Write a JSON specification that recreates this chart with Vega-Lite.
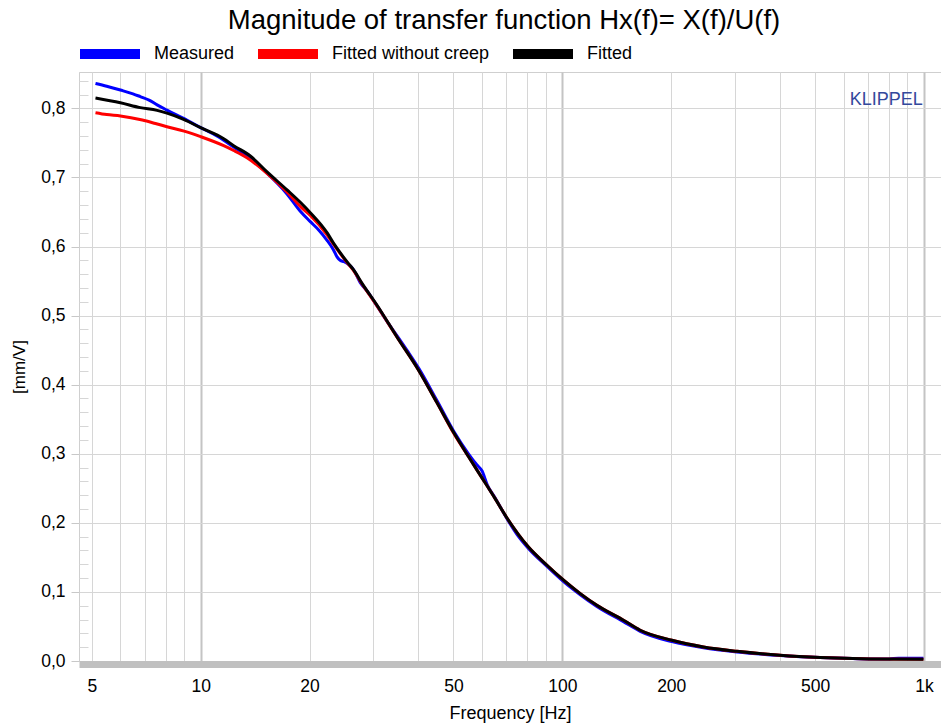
{
  "$schema": "https://vega.github.io/schema/vega-lite/v6.json",
  "width": 862,
  "height": 589,
  "autosize": "none",
  "padding": {"left": 79, "top": 72, "right": 0, "bottom": 64},
  "background": "white",
  "config": {
    "font": "Liberation Sans",
    "view": {"stroke": "#cfcfcf", "strokeWidth": 1}
  },
  "title": {
    "text": "Magnitude of transfer function Hx(f)= X(f)/U(f)",
    "fontSize": 27.5,
    "fontWeight": "normal",
    "font": "Liberation Sans",
    "color": "#000000",
    "anchor": "middle",
    "frame": "group",
    "dx": -6,
    "offset": -15
  },
  "data": {
    "values": [
      {"series": "Measured", "f": 5.12, "v": 0.836},
      {"series": "Measured", "f": 5.5, "v": 0.832},
      {"series": "Measured", "f": 6.0, "v": 0.8265},
      {"series": "Measured", "f": 6.5, "v": 0.821},
      {"series": "Measured", "f": 6.81, "v": 0.817},
      {"series": "Measured", "f": 7.2, "v": 0.812},
      {"series": "Measured", "f": 7.58, "v": 0.805},
      {"series": "Measured", "f": 8.07, "v": 0.7975},
      {"series": "Measured", "f": 8.97, "v": 0.7855},
      {"series": "Measured", "f": 10, "v": 0.772},
      {"series": "Measured", "f": 11, "v": 0.761},
      {"series": "Measured", "f": 11.58, "v": 0.754},
      {"series": "Measured", "f": 12.34, "v": 0.744},
      {"series": "Measured", "f": 13.43, "v": 0.731},
      {"series": "Measured", "f": 15.26, "v": 0.706},
      {"series": "Measured", "f": 17.33, "v": 0.676},
      {"series": "Measured", "f": 18.86, "v": 0.651},
      {"series": "Measured", "f": 20.1, "v": 0.636},
      {"series": "Measured", "f": 21.2, "v": 0.624},
      {"series": "Measured", "f": 22.36, "v": 0.609},
      {"series": "Measured", "f": 23.3, "v": 0.595},
      {"series": "Measured", "f": 23.83, "v": 0.585},
      {"series": "Measured", "f": 24.3, "v": 0.58},
      {"series": "Measured", "f": 24.9, "v": 0.578},
      {"series": "Measured", "f": 25.5, "v": 0.575},
      {"series": "Measured", "f": 26.5, "v": 0.566},
      {"series": "Measured", "f": 27.6, "v": 0.548},
      {"series": "Measured", "f": 28.8, "v": 0.536},
      {"series": "Measured", "f": 30.74, "v": 0.514},
      {"series": "Measured", "f": 33, "v": 0.489},
      {"series": "Measured", "f": 35, "v": 0.47},
      {"series": "Measured", "f": 37.5, "v": 0.447},
      {"series": "Measured", "f": 40.05, "v": 0.424},
      {"series": "Measured", "f": 45, "v": 0.377},
      {"series": "Measured", "f": 50.03, "v": 0.333},
      {"series": "Measured", "f": 55, "v": 0.3},
      {"series": "Measured", "f": 58, "v": 0.284},
      {"series": "Measured", "f": 60, "v": 0.275},
      {"series": "Measured", "f": 62, "v": 0.255},
      {"series": "Measured", "f": 65.2, "v": 0.236},
      {"series": "Measured", "f": 70.3, "v": 0.206},
      {"series": "Measured", "f": 75, "v": 0.183},
      {"series": "Measured", "f": 80.6, "v": 0.163},
      {"series": "Measured", "f": 90.7, "v": 0.137},
      {"series": "Measured", "f": 100.8, "v": 0.115},
      {"series": "Measured", "f": 112.1, "v": 0.096},
      {"series": "Measured", "f": 124.6, "v": 0.079},
      {"series": "Measured", "f": 147.6, "v": 0.057},
      {"series": "Measured", "f": 164.2, "v": 0.043},
      {"series": "Measured", "f": 200.9, "v": 0.028},
      {"series": "Measured", "f": 245.6, "v": 0.019},
      {"series": "Measured", "f": 303.8, "v": 0.013},
      {"series": "Measured", "f": 400, "v": 0.008},
      {"series": "Measured", "f": 516, "v": 0.005},
      {"series": "Measured", "f": 600, "v": 0.004},
      {"series": "Measured", "f": 710, "v": 0.003},
      {"series": "Measured", "f": 800, "v": 0.003},
      {"series": "Measured", "f": 850, "v": 0.004},
      {"series": "Measured", "f": 996, "v": 0.004},

      {"series": "Fitted without creep", "f": 5.12, "v": 0.7937},
      {"series": "Fitted without creep", "f": 5.5, "v": 0.791},
      {"series": "Fitted without creep", "f": 6.0, "v": 0.789},
      {"series": "Fitted without creep", "f": 6.9, "v": 0.783},
      {"series": "Fitted without creep", "f": 7.5, "v": 0.778},
      {"series": "Fitted without creep", "f": 8.07, "v": 0.7734},
      {"series": "Fitted without creep", "f": 9, "v": 0.767},
      {"series": "Fitted without creep", "f": 10, "v": 0.759},
      {"series": "Fitted without creep", "f": 11.58, "v": 0.746},
      {"series": "Fitted without creep", "f": 12.34, "v": 0.739},
      {"series": "Fitted without creep", "f": 13.43, "v": 0.7285},
      {"series": "Fitted without creep", "f": 15.26, "v": 0.706},
      {"series": "Fitted without creep", "f": 17.33, "v": 0.679},
      {"series": "Fitted without creep", "f": 18.86, "v": 0.658},
      {"series": "Fitted without creep", "f": 20.1, "v": 0.645},
      {"series": "Fitted without creep", "f": 22.36, "v": 0.617},
      {"series": "Fitted without creep", "f": 23.32, "v": 0.603},
      {"series": "Fitted without creep", "f": 25.38, "v": 0.577},
      {"series": "Fitted without creep", "f": 26.48, "v": 0.565},
      {"series": "Fitted without creep", "f": 28.0, "v": 0.545},
      {"series": "Fitted without creep", "f": 30.74, "v": 0.514},
      {"series": "Fitted without creep", "f": 35, "v": 0.468},
      {"series": "Fitted without creep", "f": 40.05, "v": 0.421},
      {"series": "Fitted without creep", "f": 45, "v": 0.374},
      {"series": "Fitted without creep", "f": 50.03, "v": 0.33},
      {"series": "Fitted without creep", "f": 55, "v": 0.296},
      {"series": "Fitted without creep", "f": 59.3, "v": 0.269},
      {"series": "Fitted without creep", "f": 65.2, "v": 0.235},
      {"series": "Fitted without creep", "f": 70.3, "v": 0.207},
      {"series": "Fitted without creep", "f": 80.6, "v": 0.165},
      {"series": "Fitted without creep", "f": 90.7, "v": 0.1386},
      {"series": "Fitted without creep", "f": 100.8, "v": 0.117},
      {"series": "Fitted without creep", "f": 112.1, "v": 0.0976},
      {"series": "Fitted without creep", "f": 124.6, "v": 0.0807},
      {"series": "Fitted without creep", "f": 147.6, "v": 0.059},
      {"series": "Fitted without creep", "f": 164.2, "v": 0.0445},
      {"series": "Fitted without creep", "f": 200.9, "v": 0.03},
      {"series": "Fitted without creep", "f": 245.6, "v": 0.0203},
      {"series": "Fitted without creep", "f": 303.8, "v": 0.014},
      {"series": "Fitted without creep", "f": 400, "v": 0.0083},
      {"series": "Fitted without creep", "f": 516, "v": 0.005},
      {"series": "Fitted without creep", "f": 710, "v": 0.003},
      {"series": "Fitted without creep", "f": 996, "v": 0.0025},

      {"series": "Fitted", "f": 5.12, "v": 0.815},
      {"series": "Fitted", "f": 6.0, "v": 0.808},
      {"series": "Fitted", "f": 6.81, "v": 0.801},
      {"series": "Fitted", "f": 7.58, "v": 0.797},
      {"series": "Fitted", "f": 8.07, "v": 0.793},
      {"series": "Fitted", "f": 8.97, "v": 0.784},
      {"series": "Fitted", "f": 10, "v": 0.772},
      {"series": "Fitted", "f": 11.58, "v": 0.756},
      {"series": "Fitted", "f": 12.34, "v": 0.746},
      {"series": "Fitted", "f": 13.72, "v": 0.731},
      {"series": "Fitted", "f": 15.26, "v": 0.708},
      {"series": "Fitted", "f": 17.33, "v": 0.682},
      {"series": "Fitted", "f": 18.86, "v": 0.664},
      {"series": "Fitted", "f": 20.1, "v": 0.649},
      {"series": "Fitted", "f": 22.36, "v": 0.62},
      {"series": "Fitted", "f": 23.32, "v": 0.6045},
      {"series": "Fitted", "f": 25.38, "v": 0.578},
      {"series": "Fitted", "f": 26.48, "v": 0.566},
      {"series": "Fitted", "f": 28.0, "v": 0.546},
      {"series": "Fitted", "f": 30.74, "v": 0.515},
      {"series": "Fitted", "f": 35, "v": 0.468},
      {"series": "Fitted", "f": 40.05, "v": 0.421},
      {"series": "Fitted", "f": 45, "v": 0.374},
      {"series": "Fitted", "f": 50.03, "v": 0.331},
      {"series": "Fitted", "f": 55, "v": 0.296},
      {"series": "Fitted", "f": 59.3, "v": 0.269},
      {"series": "Fitted", "f": 65.2, "v": 0.235},
      {"series": "Fitted", "f": 70.3, "v": 0.207},
      {"series": "Fitted", "f": 80.6, "v": 0.165},
      {"series": "Fitted", "f": 90.7, "v": 0.1386},
      {"series": "Fitted", "f": 100.8, "v": 0.117},
      {"series": "Fitted", "f": 112.1, "v": 0.0976},
      {"series": "Fitted", "f": 124.6, "v": 0.0807},
      {"series": "Fitted", "f": 147.6, "v": 0.059},
      {"series": "Fitted", "f": 164.2, "v": 0.0445},
      {"series": "Fitted", "f": 200.9, "v": 0.03},
      {"series": "Fitted", "f": 245.6, "v": 0.0203},
      {"series": "Fitted", "f": 303.8, "v": 0.014},
      {"series": "Fitted", "f": 400, "v": 0.0083},
      {"series": "Fitted", "f": 516, "v": 0.005},
      {"series": "Fitted", "f": 710, "v": 0.003},
      {"series": "Fitted", "f": 996, "v": 0.0025}
    ]
  },
  "resolve": {"axis": {"y": "independent"}},
  "layer": [
    {
      "transform": [{"filter": "datum.series == 'Measured'"}],
      "mark": {"type": "line", "strokeWidth": 3, "interpolate": "monotone"},
      "encoding": {
        "x": {
          "field": "f", "type": "quantitative",
          "scale": {"type": "log", "domain": [4.61, 1114], "nice": false},
          "axis": {
            "orient": "bottom",
            "title": "Frequency [Hz]",
            "titleFontSize": 18, "titleFontWeight": "normal", "titleColor": "#000000",
            "titlePadding": 10,
            "values": [5, 6, 7, 8, 9, 10, 20, 30, 40, 50, 60, 70, 80, 90, 100, 200, 300, 400, 500, 600, 700, 800, 900, 1000],
            "labelExpr": "datum.value == 1000 ? '1k' : ((datum.value == 5 || datum.value == 10 || datum.value == 20 || datum.value == 50 || datum.value == 100 || datum.value == 200 || datum.value == 500) ? '' + datum.value : '')",
            "labelFontSize": 17.5, "labelColor": "#000000", "labelPadding": 13,
            "labelOverlap": false, "labelFlush": false,
            "ticks": false, "tickSize": 0,
            "domain": true, "domainColor": "#c0c0c0", "domainWidth": 7, "offset": 3,
            "grid": true,
            "gridColor": {"condition": {"test": "datum.value == 10 || datum.value == 100 || datum.value == 1000", "value": "#c4c4c4"}, "value": "#d6d6d6"},
            "gridWidth": {"condition": {"test": "datum.value == 10 || datum.value == 100 || datum.value == 1000", "value": 2}, "value": 1}
          }
        },
        "y": {
          "field": "v", "type": "quantitative",
          "scale": {"domain": [0, 0.8526], "nice": false, "zero": false},
          "axis": {
            "orient": "left",
            "title": "[mm/V]",
            "titleFontSize": 17, "titleFontWeight": "normal", "titleColor": "#000000",
            "titlePadding": 12,
            "values": [0, 0.1, 0.2, 0.3, 0.4, 0.5, 0.6, 0.7, 0.8],
            "labelExpr": "replace(format(datum.value, '.1f'), '.', ',')",
            "labelFontSize": 17.5, "labelColor": "#000000", "labelPadding": 6,
            "ticks": true, "tickSize": 8, "tickColor": "#c8c8c8",
            "domain": true, "domainColor": "#cfcfcf",
            "grid": true, "gridColor": "#d6d6d6", "gridWidth": 1
          }
        },
        "color": {
          "field": "series", "type": "nominal",
          "scale": {"domain": ["Measured", "Fitted without creep", "Fitted"], "range": ["#0000ff", "#ff0000", "#000000"]},
          "legend": {
            "orient": "none", "legendX": -4, "legendY": -53,
            "direction": "horizontal", "title": null,
            "symbolType": "stroke", "symbolSize": 3600, "symbolStrokeWidth": 10,
            "labelFontSize": 18, "labelColor": "#000000", "labelOffset": 9,
            "columnPadding": 3
          }
        }
      }
    },
    {
      "transform": [{"filter": "datum.series == 'Fitted without creep'"}],
      "mark": {"type": "line", "strokeWidth": 3, "interpolate": "monotone"},
      "encoding": {
        "x": {"field": "f", "type": "quantitative"},
        "y": {
          "field": "v", "type": "quantitative",
          "axis": {
            "orient": "left", "title": null, "labels": false, "domain": false, "grid": false,
            "ticks": true, "tickSize": -9, "tickColor": "#d6d6d6",
            "values": [0.02, 0.04, 0.06, 0.08, 0.12, 0.14, 0.16, 0.18, 0.22, 0.24, 0.26, 0.28, 0.32, 0.34, 0.36, 0.38, 0.42, 0.44, 0.46, 0.48, 0.52, 0.54, 0.56, 0.58, 0.62, 0.64, 0.66, 0.68, 0.72, 0.74, 0.76, 0.78, 0.82, 0.84]
          }
        },
        "color": {"field": "series", "type": "nominal"}
      }
    },
    {
      "transform": [{"filter": "datum.series == 'Fitted'"}],
      "mark": {"type": "line", "strokeWidth": 3, "interpolate": "monotone"},
      "encoding": {
        "x": {"field": "f", "type": "quantitative"},
        "y": {"field": "v", "type": "quantitative", "axis": null},
        "color": {"field": "series", "type": "nominal"}
      }
    },
    {
      "data": {"values": [{"label": "KLIPPEL"}]},
      "mark": {"type": "text", "align": "right", "baseline": "alphabetic", "fontSize": 18, "color": "#33499c", "font": "Liberation Sans"},
      "encoding": {
        "x": {"datum": 992, "type": "quantitative"},
        "y": {"datum": 0.8048, "type": "quantitative", "axis": null},
        "text": {"field": "label"}
      }
    }
  ]
}
